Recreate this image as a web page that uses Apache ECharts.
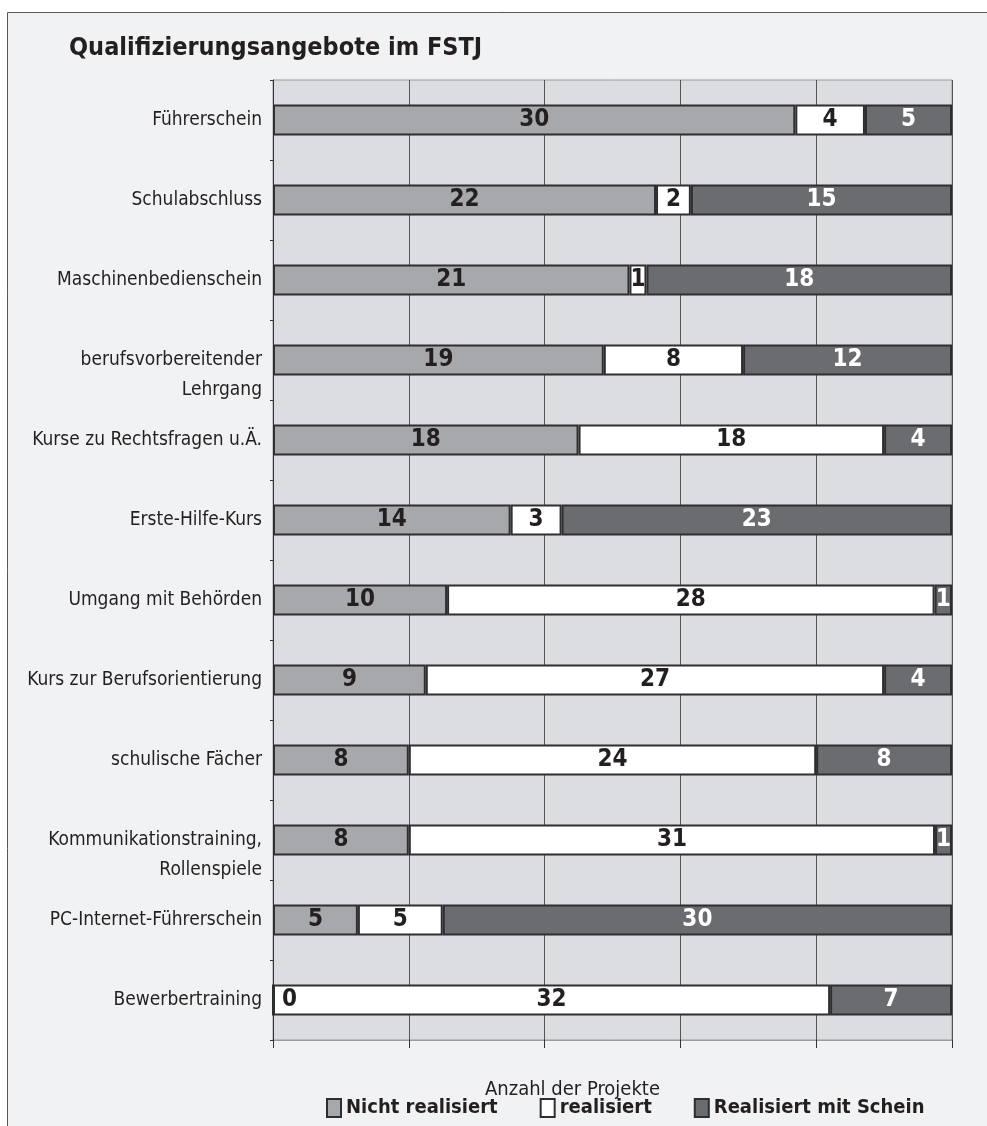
<!DOCTYPE html>
<html>
<head>
<meta charset="utf-8">
<script src="https://cdn.jsdelivr.net/npm/echarts@6/dist/echarts.min.js"></script>
<style>
  html, body { margin: 0; padding: 0; background: #fff; }
  #chart { width: 987px; height: 1126px; }
</style>
</head>
<body>
<div id="chart"></div>
<script>
// categories, top to bottom
const categories = [
  'Führerschein',
  'Schulabschluss',
  'Maschinenbedienschein',
  'berufsvorbereitender\nLehrgang',
  'Kurse zu Rechtsfragen u.Ä.',
  'Erste-Hilfe-Kurs',
  'Umgang mit Behörden',
  'Kurs zur Berufsorientierung',
  'schulische Fächer',
  'Kommunikationstraining,\nRollenspiele',
  'PC-Internet-Führerschein',
  'Bewerbertraining'
];

const nichtRealisiert = [30, 22, 21, 19, 18, 14, 10, 9, 8, 8, 5, 0];
const realisiert      = [4, 2, 1, 8, 18, 3, 28, 27, 24, 31, 5, 32];
const mitSchein       = [5, 15, 18, 12, 4, 23, 1, 4, 8, 1, 30, 7];

const seriesNames = ['Nicht realisiert', 'realisiert', 'Realisiert mit Schein'];
const xTicks = [0, 20, 40, 60, 80, 100];

const narrow = "'Liberation Sans Narrow', 'DejaVu Sans Condensed', sans-serif";

const chart = echarts.init(document.getElementById('chart'));

// every bar is stretched to 100 %, labels keep the counts
const totals = categories.map((c, i) => nichtRealisiert[i] + realisiert[i] + mitSchein[i]);

function makeSeries(name, values, fill, textColor) {
  return {
    name: name,
    type: 'bar',
    stack: 'all',
    barWidth: 31,
    itemStyle: { color: fill, borderColor: '#2e2e30', borderWidth: 2 },
    label: {
      show: true,
      position: 'inside',
      color: textColor,
      fontFamily: narrow,
      fontWeight: 'bold',
      fontSize: 24,
      formatter: p => String(values[p.dataIndex])
    },
    data: values.map((v, i) => {
      const item = { value: v / totals[i] * 100 };
      if (v === 0) item.label = { position: 'right', distance: 8 };
      return item;
    })
  };
}

const option = {
  backgroundColor: '#ffffff',
  animation: false,
  title: {
    text: 'Qualifizierungsangebote im FSTJ',
    left: 64,
    top: 31,
    textStyle: { fontFamily: narrow, fontWeight: 'bold', fontSize: 25, color: '#231f20' }
  },
  graphic: [{
    type: 'rect',
    z: -100,
    silent: true,
    shape: { x: 7.5, y: 12.5, width: 1000, height: 1200 },
    style: { fill: '#f1f2f4', stroke: '#58585a', lineWidth: 1 }
  }],
  legend: {
    left: 321,
    top: 1093,
    itemWidth: 14,
    itemHeight: 18,
    itemGap: 42,
    icon: 'rect',
    data: seriesNames,
    textStyle: { fontFamily: narrow, fontWeight: 'bold', fontSize: 20, color: '#231f20' }
  },
  grid: {
    left: 273,
    right: 35,
    top: 80,
    bottom: 86,
    show: true,
    backgroundColor: '#dcdde0',
    borderColor: '#9a9b9e',
    borderWidth: 1
  },
  xAxis: {
    type: 'value',
    min: xTicks[0],
    max: xTicks[xTicks.length - 1],
    interval: 20,
    name: 'Anzahl der Projekte',
    nameLocation: 'middle',
    nameGap: 40,
    nameTextStyle: { fontFamily: narrow, fontSize: 20, color: '#231f20', padding: [0, 80, 0, 0] },
    axisLine: { show: true, lineStyle: { color: '#9a9b9e' } },
    axisTick: { show: true, length: 8, lineStyle: { color: '#333' } },
    axisLabel: { show: false },
    splitLine: { show: true, lineStyle: { color: '#555', width: 1 } }
  },
  yAxis: {
    type: 'category',
    inverse: true,
    data: categories,
    axisLine: { show: true, lineStyle: { color: '#333' } },
    axisTick: { show: true, length: 3, lineStyle: { color: '#333' } },
    axisLabel: {
      margin: 11,
      fontFamily: narrow,
      fontSize: 19,
      lineHeight: 30,
      color: '#231f20',
      // two-line labels: first line level with the bar, second below it
      formatter: v => v.indexOf('\n') >= 0 ? ' \n' + v : v
    }
  },
  series: [
    makeSeries(seriesNames[0], nichtRealisiert, '#a7a8ab', '#231f20'),
    makeSeries(seriesNames[1], realisiert, '#ffffff', '#231f20'),
    makeSeries(seriesNames[2], mitSchein, '#6b6c70', '#ffffff')
  ]
};

chart.setOption(option);
</script>
</body>
</html>
